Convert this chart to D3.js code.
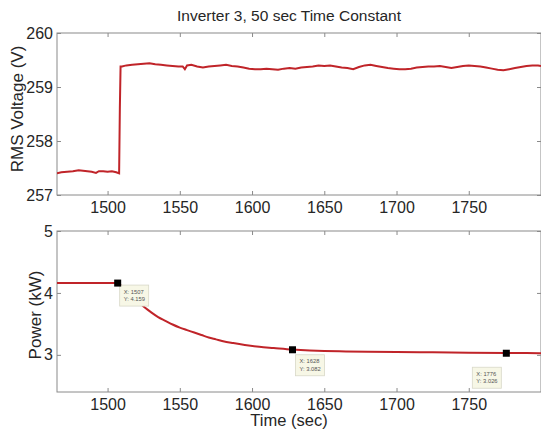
<!DOCTYPE html>
<html><head><meta charset="utf-8">
<script src="https://cdn.jsdelivr.net/npm/d3@7/dist/d3.min.js"></script>
<style>
html,body{margin:0;padding:0;background:#fff;}
svg{display:block;font-family:"Liberation Sans",Arial,sans-serif;}
</style></head>
<body>
<svg id="c" width="541" height="430"></svg>
<script>
// ---------- data ----------
const title = "Inverter 3, 50 sec Time Constant";
const xTicks = [1500, 1550, 1600, 1650, 1700, 1750];
const vTicks = [257, 258, 259, 260];
const pTicks = [3, 4, 5];
const voltTime = [1465,1468,1472,1476,1480,1483,1486,1489,1492,1494,1497,1500,1503,1506,1508,1508.5,1509,
  1510,1513,1517,1521,1525,1529,1533,1537,1541,1545,1549,1552,1553.5,1555,1558,1562,1566,1570,1574,1578,1582,1586,1590,1594,1598,
  1602,1606,1610,1614,1618,1622,1626,1630,1634,1638,1642,1646,1650,1654,1658,1662,1666,1670,1674,1678,1682,1686,1690,1694,1698,
  1702,1706,1710,1714,1718,1722,1726,1730,1734,1738,1742,1746,1750,1754,1758,1762,1766,1770,1774,1778,1782,1786,1790,1794,1798,1800];
const voltValue = [257.40,257.42,257.43,257.44,257.46,257.45,257.44,257.43,257.41,257.44,257.44,257.43,257.44,257.42,257.40,258.6,259.38,
  259.38,259.40,259.41,259.42,259.43,259.44,259.42,259.41,259.40,259.39,259.38,259.38,259.33,259.40,259.41,259.38,259.36,259.38,259.39,259.40,259.41,259.39,259.38,259.36,259.34,
  259.33,259.33,259.34,259.33,259.32,259.34,259.35,259.34,259.36,259.37,259.38,259.40,259.39,259.40,259.38,259.36,259.35,259.33,259.37,259.40,259.41,259.39,259.37,259.35,259.34,
  259.33,259.33,259.34,259.36,259.37,259.38,259.38,259.39,259.37,259.35,259.37,259.39,259.40,259.39,259.38,259.36,259.34,259.32,259.31,259.33,259.35,259.37,259.39,259.40,259.40,259.39];
const powTime = [1465,1480,1495,1507,1510,1514,1518,1522,1526,1530,1535,1540,1545,1550,1555,1560,1565,1570,1575,1580,1587,1595,1605,1615,1628,1640,1650,1665,1680,1700,1725,1750,1776,1790,1800];
const powValue = [4.16,4.16,4.16,4.159,4.10,4.00,3.92,3.84,3.76,3.69,3.61,3.55,3.49,3.44,3.40,3.36,3.32,3.28,3.25,3.22,3.19,3.16,3.13,3.11,3.085,3.07,3.062,3.055,3.05,3.045,3.04,3.035,3.03,3.028,3.025];
const tipX = [1507, 1628, 1776];
const tipY = [4.159, 3.082, 3.026];

// ---------- layout ----------
const L = 57, R = 541;
const top1 = 33, bot1 = 195, top2 = 231, bot2 = 392;
const tipOffsets = [[2,2],[3,5],[-34,14]];
const axisColor = "#8a8a8a", textColor = "#262626", lineColor = "#c02429";
const tickLen = 4, tickFont = 16;

const svg = d3.select("#c");
const x = d3.scaleLinear().domain([1465, 1800]).range([L, R]);
const yV = d3.scaleLinear().domain([257, 260]).range([bot1, top1]);
const yP = d3.scaleLinear().domain([2.4, 5]).range([bot2, top2]);

svg.append("text").attr("x", 289).attr("y", 21).attr("text-anchor", "middle")
  .attr("font-size", 15.5).attr("fill", textColor).text(title);

function panel(y, yTicks, top, bot, id) {
  const g = svg.append("g");
  g.append("g").attr("transform", `translate(0,${bot})`)
    .call(d3.axisBottom(x).tickValues(xTicks).tickSizeInner(-tickLen).tickSizeOuter(0).tickPadding(7).tickFormat(d3.format("d")))
    .call(a => a.select(".domain").remove());
  g.append("g").attr("transform", `translate(0,${top})`)
    .call(d3.axisTop(x).tickValues(xTicks).tickSizeInner(-tickLen).tickSizeOuter(0).tickFormat(""))
    .call(a => a.select(".domain").remove());
  g.append("g").attr("transform", `translate(${L},0)`)
    .call(d3.axisLeft(y).tickValues(yTicks).tickSizeInner(-tickLen).tickSizeOuter(0).tickPadding(4).tickFormat(d3.format("d")))
    .call(a => a.select(".domain").remove());
  g.append("g").attr("transform", `translate(${R},0)`)
    .call(d3.axisRight(y).tickValues(yTicks).tickSizeInner(-tickLen).tickSizeOuter(0).tickFormat(""))
    .call(a => a.select(".domain").remove());
  g.selectAll(".tick line").attr("stroke", axisColor);
  g.selectAll(".tick text").attr("font-size", tickFont).attr("fill", textColor)
    .attr("font-family", "Liberation Sans, Arial, sans-serif");
  g.append("rect").attr("x", L).attr("y", top).attr("width", R - L).attr("height", bot - top)
    .attr("fill", "none").attr("stroke", axisColor).attr("stroke-width", 1);
  svg.append("clipPath").attr("id", id).append("rect")
    .attr("x", L).attr("y", top).attr("width", R - L).attr("height", bot - top);
  return g;
}

panel(yV, vTicks, top1, bot1, "clip1");
panel(yP, pTicks, top2, bot2, "clip2");

// voltage line
const vData = voltTime.map((t, i) => [t, voltValue[i]]);
svg.append("path").datum(vData).attr("clip-path", "url(#clip1)")
  .attr("fill", "none").attr("stroke", lineColor).attr("stroke-width", 2)
  .attr("d", d3.line().x(d => x(d[0])).y(d => yV(d[1])));

// power line
const pData = powTime.map((t, i) => [t, powValue[i]]);
svg.append("path").datum(pData).attr("clip-path", "url(#clip2)")
  .attr("fill", "none").attr("stroke", lineColor).attr("stroke-width", 2)
  .attr("d", d3.line().curve(d3.curveMonotoneX).x(d => x(d[0])).y(d => yP(d[1])));

// data tips
tipX.forEach((t, i) => {
  const cx = x(t), cy = yP(tipY[i]);
  const [ox, oy] = tipOffsets[i];
  const bx = cx + ox, by = cy + oy;
  svg.append("rect").attr("x", bx).attr("y", by).attr("width", 29).attr("height", 21)
    .attr("fill", "#f7f7e6").attr("stroke", "#d8d8c8").attr("stroke-width", 0.8);
  svg.append("text").attr("x", bx + 4).attr("y", by + 8.5).attr("font-size", 5.8).attr("fill", "#555")
    .text("X: " + t);
  svg.append("text").attr("x", bx + 4).attr("y", by + 16).attr("font-size", 5.8).attr("fill", "#555")
    .text("Y: " + d3.format(".3f")(tipY[i]));
  svg.append("rect").attr("x", cx - 3.5).attr("y", cy - 3.5).attr("width", 7).attr("height", 7)
    .attr("fill", "#000");
});

// axis labels
svg.append("text").attr("transform", "translate(23,109) rotate(-90)").attr("text-anchor", "middle")
  .attr("font-size", 17).attr("fill", textColor).text("RMS Voltage (V)");
svg.append("text").attr("transform", "translate(41,315) rotate(-90)").attr("text-anchor", "middle")
  .attr("font-size", 17).attr("fill", textColor).text("Power (kW)");
svg.append("text").attr("x", 289).attr("y", 426).attr("text-anchor", "middle")
  .attr("font-size", 16.5).attr("fill", textColor).text("Time (sec)");
</script>
</body></html>
